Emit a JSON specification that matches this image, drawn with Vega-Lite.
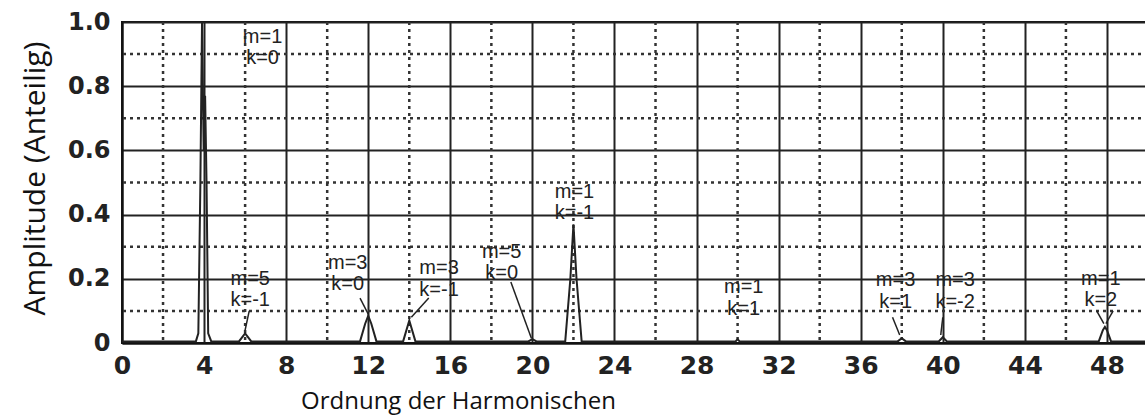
{
  "$schema": "https://vega.github.io/schema/vega-lite/v6.json",
  "width": 1026,
  "height": 321,
  "autosize": {"type": "none"},
  "padding": {"left": 122, "top": 22, "right": 0, "bottom": 76},
  "background": "white",
  "config": {
    "view": {"stroke": "#111", "strokeWidth": 2},
    "axis": {
      "labelFont": "DejaVu Sans",
      "labelFontWeight": "bold",
      "labelColor": "#222",
      "titleFont": "Open Sans",
      "titleFontWeight": "normal",
      "titleColor": "#111",
      "grid": true,
      "gridColor": "#222",
      "gridWidth": 2,
      "gridOpacity": 1,
      "ticks": false,
      "domainColor": "#111",
      "domainWidth": 2
    }
  },
  "datasets": {
    "spectrum": [
      {"h": 0, "a": 0.005}, {"h": 3.6, "a": 0.005}, {"h": 3.72, "a": 0.03}, {"h": 3.82, "a": 0.5},
      {"h": 3.9, "a": 1.0}, {"h": 3.98, "a": 0.6}, {"h": 4.05, "a": 0.77}, {"h": 4.12, "a": 0.5},
      {"h": 4.2, "a": 0.03}, {"h": 4.35, "a": 0.005}, {"h": 5.7, "a": 0.005}, {"h": 6.0, "a": 0.03},
      {"h": 6.3, "a": 0.005}, {"h": 11.6, "a": 0.005}, {"h": 11.85, "a": 0.06}, {"h": 12.0, "a": 0.085},
      {"h": 12.15, "a": 0.06}, {"h": 12.4, "a": 0.005}, {"h": 13.7, "a": 0.005}, {"h": 14.0, "a": 0.07},
      {"h": 14.3, "a": 0.005}, {"h": 19.8, "a": 0.005}, {"h": 20.0, "a": 0.012}, {"h": 20.2, "a": 0.005},
      {"h": 21.6, "a": 0.005}, {"h": 21.85, "a": 0.2}, {"h": 22.0, "a": 0.37}, {"h": 22.15, "a": 0.2},
      {"h": 22.4, "a": 0.005}, {"h": 29.9, "a": 0.005}, {"h": 30.0, "a": 0.012}, {"h": 30.1, "a": 0.005},
      {"h": 37.8, "a": 0.005}, {"h": 38.0, "a": 0.015}, {"h": 38.2, "a": 0.005}, {"h": 39.8, "a": 0.005},
      {"h": 40.0, "a": 0.018}, {"h": 40.2, "a": 0.005}, {"h": 47.6, "a": 0.005}, {"h": 47.8, "a": 0.04},
      {"h": 47.9, "a": 0.05}, {"h": 48.0, "a": 0.04}, {"h": 48.2, "a": 0.005}, {"h": 50, "a": 0.005}
    ],
    "vgrid": [
      {"h": 2}, {"h": 6}, {"h": 10}, {"h": 14}, {"h": 18}, {"h": 22}, {"h": 26},
      {"h": 30}, {"h": 34}, {"h": 38}, {"h": 42}, {"h": 46}
    ],
    "hgrid": [{"a": 0.1}, {"a": 0.3}, {"a": 0.5}, {"a": 0.7}, {"a": 0.9}],
    "labels": [
      {"h": 6.85, "a": 0.953, "t": "m=1"}, {"h": 6.85, "a": 0.888, "t": "k=0"},
      {"h": 6.25, "a": 0.2, "t": "m=5"}, {"h": 6.25, "a": 0.134, "t": "k=-1"},
      {"h": 11.0, "a": 0.25, "t": "m=3"}, {"h": 11.0, "a": 0.183, "t": "k=0"},
      {"h": 15.45, "a": 0.234, "t": "m=3"}, {"h": 15.45, "a": 0.165, "t": "k=-1"},
      {"h": 18.5, "a": 0.285, "t": "m=5"}, {"h": 18.5, "a": 0.218, "t": "k=0"},
      {"h": 22.05, "a": 0.47, "t": "m=1"}, {"h": 22.05, "a": 0.405, "t": "k=-1"},
      {"h": 30.3, "a": 0.175, "t": "m=1"}, {"h": 30.3, "a": 0.106, "t": "k=1"},
      {"h": 37.7, "a": 0.196, "t": "m=3"}, {"h": 37.7, "a": 0.128, "t": "k=1"},
      {"h": 40.6, "a": 0.196, "t": "m=3"}, {"h": 40.6, "a": 0.128, "t": "k=-2"},
      {"h": 47.7, "a": 0.2, "t": "m=1"}, {"h": 47.7, "a": 0.134, "t": "k=2"}
    ],
    "leaders": [
      {"h": 6.2, "a": 0.1, "h2": 6.0, "a2": 0.04},
      {"h": 11.6, "a": 0.14, "h2": 12.0, "a2": 0.09},
      {"h": 14.95, "a": 0.14, "h2": 14.1, "a2": 0.08},
      {"h": 18.95, "a": 0.19, "h2": 19.95, "a2": 0.015},
      {"h": 37.55, "a": 0.08, "h2": 37.9, "a2": 0.025},
      {"h": 40.0, "a": 0.08, "h2": 39.9, "a2": 0.025},
      {"h": 47.5, "a": 0.1, "h2": 47.85, "a2": 0.06},
      {"h": 48.3, "a": 0.1, "h2": 47.95, "a2": 0.06}
    ]
  },
  "layer": [
    {
      "data": {"name": "vgrid"},
      "mark": {"type": "rule", "color": "#333", "strokeWidth": 2.5, "strokeDash": [3, 4]},
      "encoding": {"x": {"field": "h", "type": "quantitative"}}
    },
    {
      "data": {"name": "hgrid"},
      "mark": {"type": "rule", "color": "#333", "strokeWidth": 2.5, "strokeDash": [3, 4]},
      "encoding": {"y": {"field": "a", "type": "quantitative"}}
    },
    {
      "data": {"name": "spectrum"},
      "mark": {"type": "line", "color": "#222", "strokeWidth": 2},
      "encoding": {
        "x": {
          "field": "h", "type": "quantitative",
          "scale": {"domain": [0, 50], "nice": false},
          "axis": {
            "values": [0, 4, 8, 12, 16, 20, 24, 28, 32, 36, 40, 44, 48],
            "title": "Ordnung der Harmonischen",
            "labelFontSize": 25,
            "titleFontSize": 24,
            "labelPadding": 10,
            "labelFlush": false,
            "titleX": 336, "titleY": 58,
            "titleAlign": "center", "titleBaseline": "middle"
          }
        },
        "y": {
          "field": "a", "type": "quantitative",
          "scale": {"domain": [0, 1], "nice": false},
          "axis": {
            "values": [0, 0.2, 0.4, 0.6, 0.8, 1.0],
            "labelExpr": "datum.value == 0 ? '0' : format(datum.value, '.1f')",
            "title": "Amplitude (Anteilig)",
            "labelFontSize": 24,
            "titleFontSize": 30,
            "labelPadding": 12,
            "titleX": -87, "titleY": 156,
            "titleAngle": 270,
            "titleAlign": "center", "titleBaseline": "middle"
          }
        }
      }
    },
    {
      "data": {"name": "leaders"},
      "mark": {"type": "rule", "color": "#222", "strokeWidth": 1.5},
      "encoding": {
        "x": {"field": "h", "type": "quantitative"},
        "y": {"field": "a", "type": "quantitative"},
        "x2": {"field": "h2"},
        "y2": {"field": "a2"}
      }
    },
    {
      "data": {"name": "labels"},
      "mark": {"type": "text", "font": "Liberation Sans", "fontSize": 20, "color": "#222", "baseline": "middle"},
      "encoding": {
        "x": {"field": "h", "type": "quantitative"},
        "y": {"field": "a", "type": "quantitative"},
        "text": {"field": "t"}
      }
    }
  ]
}
